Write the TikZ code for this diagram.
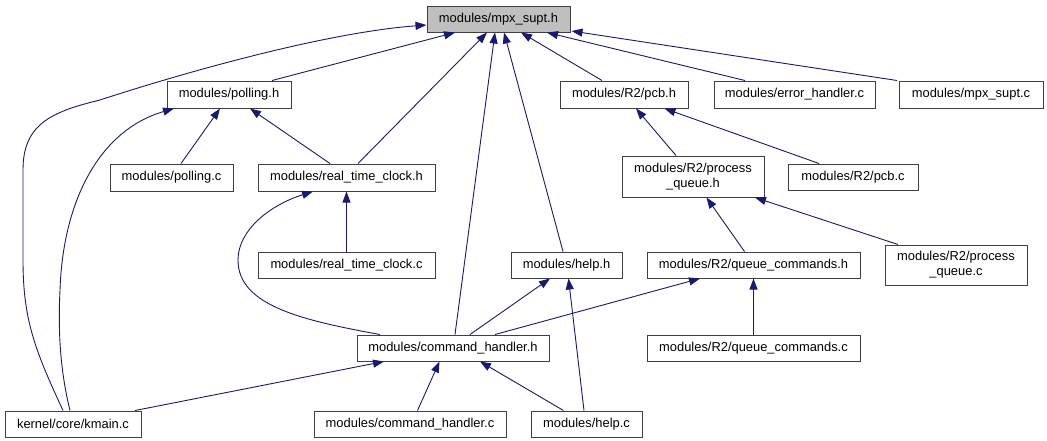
\documentclass[tikz,border=0pt]{standalone}
\usepackage{fontspec}
\setmainfont{Liberation Sans}
\usetikzlibrary{arrows.meta}
\definecolor{edgeblue}{HTML}{191970}
\definecolor{boxline}{HTML}{404040}
\definecolor{rootfill}{HTML}{BFBFBF}
\tikzset{
  file/.style={draw=boxline, line width=1pt, fill=white, inner sep=0pt, minimum height=26pt,
    font=\fontsize{12.9}{15}\selectfont, align=center},
  root/.style={file, fill=rootfill},
  dep/.style={draw=edgeblue, line width=0.9pt, -{Triangle[length=11pt,width=8pt]}},
}
\begin{document}
\begin{tikzpicture}[x=1pt,y=-1pt]
\useasboundingbox (0,0) rectangle (1047,440);
% nodes
\node[root, minimum width=143pt] (mpx) at (498.5,19) {modules/mpx\_supt.h};
\node[file, minimum width=124pt, minimum height=27pt] (pollh) at (229,94.5) {modules/polling.h};
\node[file, minimum width=128pt, minimum height=27pt] (pcbh) at (624,94.5) {modules/R2/pcb.h};
\node[file, minimum width=161pt, minimum height=27pt] (err) at (794.5,94.5) {modules/error\_handler.c};
\node[file, minimum width=144pt, minimum height=27pt] (mpxc) at (971,94.5) {modules/mpx\_supt.c};
\node[file, minimum width=123pt, minimum height=27pt] (pollc) at (171.5,177.5) {modules/polling.c};
\node[file, minimum width=177pt, minimum height=27pt] (rtch) at (346.5,177.5) {modules/real\_time\_clock.h};
\node[file, minimum width=142pt, minimum height=41pt] (pqh) at (693,176.5) {modules/R2/process\\\_queue.h};
\node[file, minimum width=130pt] (pcbc) at (853,177) {modules/R2/pcb.c};
\node[file, minimum width=177pt] (rtcc) at (346.5,265) {modules/real\_time\_clock.c};
\node[file, minimum width=111pt] (helph) at (566.5,265) {modules/help.h};
\node[file, minimum width=213pt] (qch) at (753.5,265) {modules/R2/queue\_commands.h};
\node[file, minimum width=142pt, minimum height=40pt] (pqc) at (956,265) {modules/R2/process\\\_queue.c};
\node[file, minimum width=192pt] (chh) at (453,348) {modules/command\_handler.h};
\node[file, minimum width=213pt] (qcc) at (753.5,348) {modules/R2/queue\_commands.c};
\node[file, minimum width=136pt] (kmain) at (73,424) {kernel/core/kmain.c};
\node[file, minimum width=192pt] (chc) at (410,424) {modules/command\_handler.c};
\node[file, minimum width=111pt] (helpc) at (586.5,424) {modules/help.c};
% curved edges
\draw[dep] ([xshift=-10pt]kmain.north) .. controls (35,350) and (23,320) .. (23,260)
  -- (23,170) .. controls (23,125) and (50,112) .. (100,100)
  .. controls (170,77) and (320,33) .. ([yshift=-6pt]mpx.west);
\draw[dep] ([xshift=-3pt]kmain.north) .. controls (60,370) and (58,330) .. (60,290)
  .. controls (63,200) and (100,130) .. ([xshift=-55pt]pollh.south);
\draw[dep] ([xshift=-73pt]chh.north) .. controls (300,320) and (238,305) .. (238,260)
  .. controls (238,230) and (270,205) .. ([xshift=-33.5pt]rtch.south);
% straight edges
\draw[dep] ([xshift=43pt]pollh.north) -- ([xshift=-43.5pt]mpx.south);
\draw[dep] ([xshift=11.5pt]rtch.north) -- ([xshift=-11.5pt]mpx.south);
\draw[dep] ([xshift=2pt]chh.north) -- ([xshift=-3.5pt]mpx.south);
\draw[dep] ([xshift=-3.5pt]helph.north) -- ([xshift=5.5pt]mpx.south);
\draw[dep] ([xshift=-22pt]pcbh.north) -- ([xshift=22.5pt]mpx.south);
\draw[dep] ([xshift=-49.5pt]err.north) -- ([xshift=48.5pt]mpx.south);
\draw[dep] ([xshift=-1.5pt]mpxc.north west) -- ([yshift=1.5pt,xshift=1pt]mpx.south east);
\draw[dep] ([xshift=9.5pt]pollc.north) -- ([xshift=-9pt]pollh.south);
\draw[dep] ([xshift=-16.5pt]rtch.north) -- ([xshift=21pt]pollh.south);
\draw[dep] (rtcc.north) -- (rtch.south);
\draw[dep] ([xshift=-17pt]pqh.north) -- ([xshift=12pt]pcbh.south);
\draw[dep] ([xshift=-34pt]pcbc.north) -- ([xshift=40.5pt]pcbh.south);
\draw[dep] ([xshift=-9pt]qch.north) -- ([xshift=13.5pt]pqh.south);
\draw[dep] ([xshift=-58pt]pqc.north) -- ([xshift=62pt]pqh.south);
\draw[dep] ([xshift=17pt]chh.north) -- ([xshift=-16.5pt]helph.south);
\draw[dep] ([xshift=42pt]chh.north) -- ([xshift=-53.5pt]qch.south);
\draw[dep] (qcc.north) -- (qch.south);
\draw[dep] ([xshift=62pt]kmain.north) -- ([xshift=-69pt]chh.south);
\draw[dep] ([xshift=7.5pt]chc.north) -- ([xshift=-13.5pt]chh.south);
\draw[dep] ([xshift=-23pt]helpc.north) -- ([xshift=27pt]chh.south);
\draw[dep] ([xshift=-2.5pt]helpc.north) -- ([xshift=2pt]helph.south);
\end{tikzpicture}
\end{document}
